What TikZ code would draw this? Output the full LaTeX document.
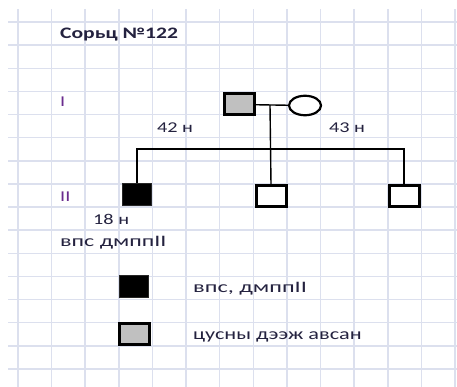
\documentclass[tikz,border=0pt]{standalone}
\usepackage{fontspec}
\usepackage{graphicx}
\setmainfont{Carlito}
\usetikzlibrary{shapes.geometric}
\definecolor{gridc}{HTML}{DCE0EE}
\definecolor{txt}{HTML}{24223F}
\definecolor{purp}{HTML}{6A2C8E}
\definecolor{pgray}{HTML}{C0C0C0}
\newcommand{\sx}[2][1.35]{\scalebox{#1}[1]{#2}}
\tikzset{
  lbl/.style={inner sep=0pt, text=txt, font=\fontsize{15}{15}\selectfont},
  big/.style={inner sep=0pt, text=txt, font=\fontsize{16}{16}\selectfont},
  gen/.style={inner sep=0pt, text=purp, font=\fontsize{15}{15}\selectfont},
  male/.style={rectangle, draw=black, line width=3pt, minimum width=30pt, minimum height=21pt, inner sep=0pt},
  female/.style={ellipse, draw=black, line width=2.2pt, minimum width=32pt, minimum height=19.5pt, inner sep=0pt},
  aff/.style={rectangle, fill=black, draw=black!85, line width=1pt, minimum width=29pt, minimum height=22pt, inner sep=0pt},
  link/.style={line width=1.4pt, draw=black}
}
\begin{document}
\begin{tikzpicture}[x=1pt,y=-1pt]
\useasboundingbox (0,0) rectangle (457,387);
% grid
\foreach \i in {0,...,13} {
  \draw[gridc, line width=1.5pt] (18+33.62*\i,9) -- (18+33.62*\i,387);
}
\foreach \j in {0,...,15} {
  \draw[gridc, line width=1.5pt] (8,22+23.13*\j) -- (457,22+23.13*\j);
}
% title
\node[lbl, anchor=west, font=\fontsize{16}{16}\selectfont\bfseries] (title) at (60,35) {\sx{Сорьц №122}};
% generation labels
\node[gen, anchor=west] (g1) at (60,102) {\sx{I}};
\node[gen, anchor=west] (g2) at (60,197) {\sx{II}};
% generation I
\node[male, fill=pgray] (f) at (239.5,104.5) {};
\node[female, fill=white] (m) at (305,105.5) {};
\draw[link] (f) -- (m);
\coordinate (mid) at (270,105);
\node[lbl] (a42) at (175,128) {\sx{42 н}};
\node[lbl] (a43) at (347,128) {\sx{43 н}};
% generation II
\node[aff] (c1) at (137,194.5) {};
\node[male, fill=white] (c2) at (271,196.5) {};
\node[male, fill=white] (c3) at (404,196.5) {};
\coordinate (sib) at (270,149);
\draw[link] (mid) -- (c2.north);
\draw[link] (c1.north) |- (sib) -| (c3.north);
\node[lbl, anchor=west] (a18) at (93,219) {\sx{18 н}};
\node[big, anchor=west] (dx) at (60,243) {\sx[1.5]{впс дмппII}};
% legend
\node[aff] (l1) at (133.5,286.5) {};
\node[big, anchor=west] (l1t) at (193,289) {\sx[1.52]{впс, дмппII}};
\node[male, fill=pgray] (l2) at (134.5,334) {};
\node[big, anchor=west] (l2t) at (193,337) {\sx[1.39]{цусны дээж авсан}};
\end{tikzpicture}
\end{document}
